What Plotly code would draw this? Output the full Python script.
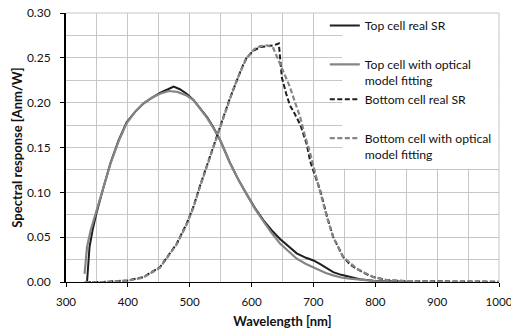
import plotly.graph_objects as go

# ---- data ----
top_real_wl = [334, 338, 343, 349, 360, 372, 385, 398, 412, 425, 440, 452, 465, 474, 484, 495, 506, 517, 528, 538, 550, 565, 578, 592, 605, 619, 632, 646, 660, 673, 688, 700, 711, 722, 732, 745, 759, 775, 797, 820, 850]
top_real_sr = [0.000, 0.039, 0.058, 0.076, 0.104, 0.133, 0.158, 0.178, 0.190, 0.199, 0.206, 0.211, 0.215, 0.218, 0.215, 0.210, 0.203, 0.194, 0.184, 0.173, 0.157, 0.133, 0.115, 0.098, 0.083, 0.069, 0.058, 0.048, 0.040, 0.032, 0.027, 0.024, 0.020, 0.015, 0.011, 0.008, 0.0055, 0.003, 0.0015, 0.0008, 0.0003]

top_fit_wl = [330, 334, 340, 348, 360, 372, 385, 398, 412, 425, 440, 452, 466, 480, 495, 506, 517, 528, 538, 550, 565, 578, 592, 605, 619, 632, 646, 660, 673, 688, 705, 720, 732, 745, 759, 780, 800, 830, 860]
top_fit_sr = [0.009, 0.039, 0.058, 0.076, 0.103, 0.132, 0.157, 0.177, 0.190, 0.199, 0.206, 0.210, 0.213, 0.212, 0.208, 0.203, 0.193, 0.183, 0.172, 0.157, 0.133, 0.115, 0.098, 0.082, 0.068, 0.055, 0.043, 0.034, 0.026, 0.020, 0.0148, 0.010, 0.0074, 0.005, 0.0037, 0.002, 0.001, 0.0004, 0.0]

bot_real_wl = [332, 360, 400, 425, 452, 479, 495, 506, 517, 530, 540, 555, 565, 576, 585, 592, 603, 614, 625, 636, 644, 649, 656, 662, 668, 679, 689, 695, 700, 711, 722, 732, 748, 760, 770, 785, 797, 820, 850, 900, 1000]
bot_real_sr = [0.000, 0.000, 0.0018, 0.0055, 0.0166, 0.0427, 0.065, 0.084, 0.108, 0.135, 0.155, 0.185, 0.205, 0.225, 0.240, 0.250, 0.258, 0.262, 0.263, 0.264, 0.266, 0.228, 0.210, 0.197, 0.190, 0.175, 0.154, 0.134, 0.124, 0.102, 0.073, 0.050, 0.028, 0.019, 0.0148, 0.009, 0.0055, 0.002, 0.001, 0.0005, 0.0003]

bot_fit_wl = [330, 360, 400, 425, 452, 479, 495, 506, 517, 530, 540, 555, 565, 576, 592, 605, 614, 625, 635, 646, 655, 662, 670, 678.5, 686, 695, 703, 711, 722, 732, 748, 770, 797, 820, 850, 900, 1000]
bot_fit_sr = [0.000, 0.000, 0.0015, 0.005, 0.016, 0.042, 0.064, 0.083, 0.107, 0.134, 0.154, 0.184, 0.204, 0.225, 0.250, 0.260, 0.263, 0.264, 0.261, 0.243, 0.228, 0.2175, 0.201, 0.184, 0.164, 0.143, 0.121, 0.100, 0.072, 0.050, 0.028, 0.0148, 0.0055, 0.002, 0.001, 0.0005, 0.0003]

names = ["Top cell real SR", "Top cell with optical<br>model fitting",
         "Bottom cell real SR", "Bottom cell with optical<br>model fitting"]

FONT = "Lato, 'Open Sans', sans-serif"
BLACK = "#1e1e1e"
GRAY = "#858585"
DASH = "5px,2.5px"
grid = "#c6c6c6"

fig = go.Figure()
fig.add_trace(go.Scatter(x=top_real_wl, y=top_real_sr, mode="lines", name=names[0],
                         legendgroup="a", line=dict(color=BLACK, width=2)))
fig.add_trace(go.Scatter(x=top_fit_wl, y=top_fit_sr, mode="lines", name=names[1],
                         legendgroup="b", line=dict(color=GRAY, width=2.2)))
fig.add_trace(go.Scatter(x=bot_real_wl, y=bot_real_sr, mode="lines", name=names[2],
                         legendgroup="b", line=dict(color=BLACK, width=2, dash=DASH)))
fig.add_trace(go.Scatter(x=bot_fit_wl, y=bot_fit_sr, mode="lines", name=names[3],
                         legendgroup="c", line=dict(color=GRAY, width=2.2, dash=DASH)))

# legend box background (hides the grid behind the legend) and plot-area border
fig.add_shape(type="rect", xref="paper", yref="paper", x0=0.638, x1=0.999, y0=0.421, y1=1.0,
              fillcolor="white", line=dict(width=0), layer="above")
fig.add_shape(type="line", xref="paper", yref="paper", x0=0, x1=1, y0=1, y1=1,
              line=dict(color=grid, width=1), layer="above")
fig.add_shape(type="line", xref="paper", yref="paper", x0=1, x1=1, y0=0, y1=1,
              line=dict(color=grid, width=1), layer="above")

fig.update_layout(
    width=511, height=332,
    margin=dict(l=66, r=12, t=13, b=50, autoexpand=False),
    paper_bgcolor="white", plot_bgcolor="white",
    font=dict(family=FONT, size=12, color="#111111"),
    showlegend=True,
    legend=dict(x=0.5977, xanchor="left", y=1.0075, yanchor="top",
                bgcolor="rgba(0,0,0,0)", borderwidth=0, valign="top",
                traceorder="grouped", tracegroupgap=20,
                font=dict(family=FONT, size=12.2, color="#111111"),
                itemwidth=30),
    xaxis=dict(range=[300, 1000], dtick=100, tick0=300, automargin=False,
               showgrid=True, gridcolor=grid, gridwidth=1,
               minor=dict(dtick=50, showgrid=True, gridcolor=grid, gridwidth=1),
               showline=True, linecolor="black", linewidth=1.3,
               ticks="outside", ticklen=4, tickcolor="black",
               tickfont=dict(size=11.6),
               ticklabelstandoff=5, ticklabeloverflow="allow", zeroline=False,
               title=dict(text="<b>Wavelength [nm]</b>", standoff=9,
                          font=dict(family=FONT, size=13))),
    yaxis=dict(range=[0, 0.30], dtick=0.05, tickformat=".2f", automargin=False,
               showgrid=True, gridcolor=grid, gridwidth=1,
               minor=dict(dtick=0.025, showgrid=True, gridcolor=grid, gridwidth=1),
               showline=True, linecolor="black", linewidth=2,
               ticks="outside", ticklen=4, tickcolor="black",
               ticklabelstandoff=7, ticklabeloverflow="allow", zeroline=False,
               title=dict(text="<b>Spectral response [Anm/W]</b>", standoff=1,
                          font=dict(family=FONT, size=13))),
)

fig.write_html("out.html", config={"displayModeBar": False},
               post_script="document.body.style.margin='0';")
